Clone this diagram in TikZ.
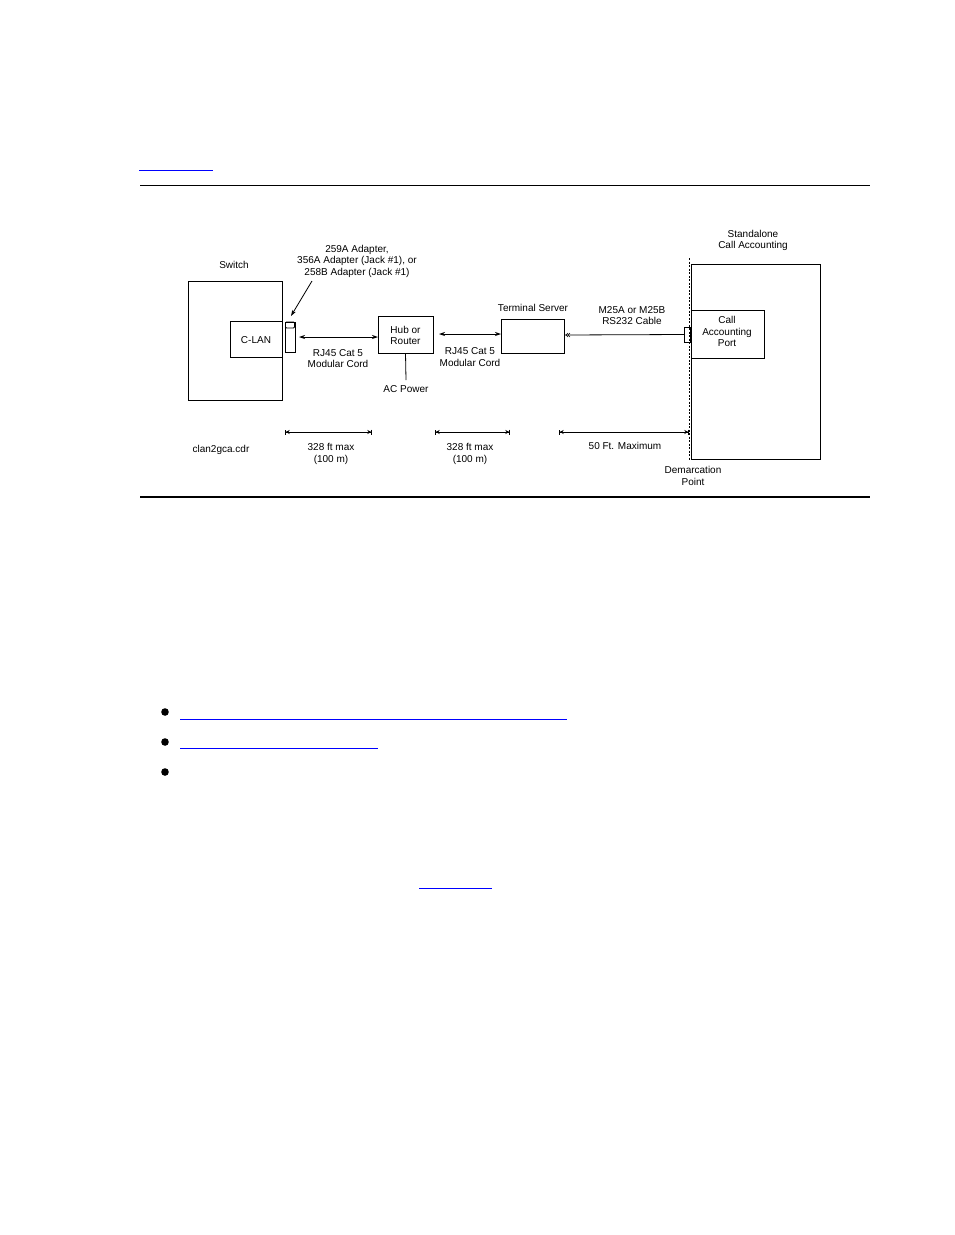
\documentclass[tikz,border=0pt]{standalone}
\usepackage{fontspec}
\setmainfont{Liberation Sans}
\usetikzlibrary{arrows.meta}
\begin{document}
\begin{tikzpicture}[x=1pt,y=-1pt,
  box/.style={draw,line width=0.8pt,inner sep=0pt,outer sep=0pt},
  lbl/.style={font=\fontsize{10}{11.5}\selectfont,align=center,inner sep=0pt,yshift=-1pt},
  dbl/.style={line width=0.8pt,{Stealth[length=6pt,width=4pt]}-{Stealth[length=6pt,width=4pt]}},
  dim/.style={line width=0.7pt,{Bar[width=5pt]Stealth[length=4pt,width=4pt]}-{Stealth[length=4pt,width=4pt]Bar[width=5pt]}},
  link/.style={draw=blue,line width=1pt}]
\useasboundingbox (0,0) rectangle (954,1235);
% rules and links
\draw[link] (139,170) -- (213,170);
\draw[line width=0.8pt] (140,185) -- (870,185);
\draw[line width=1.6pt] (140,497) -- (870,497);
% switch
\node[box,minimum width=94pt,minimum height=119pt] (switch) at (235,340.5) {};
\node[lbl] (switchlbl) at (234,264) {Switch};
\node[box,minimum width=52pt,minimum height=36pt] (clan) at (256,339) {};
\node[lbl] at (clan) {C-LAN};
% adapter
\node[box,minimum width=10pt,minimum height=30pt] (adapter) at (290,337) {};
\draw[line width=0.8pt,rounded corners=1pt] (285.5,328) -- (285.5,322) -- (294.5,322) -- (294.5,328) -- cycle;
\node[lbl] (adlbl) at (357,260) {259A Adapter,\\356A Adapter (Jack \#1), or\\258B Adapter (Jack \#1)};
\coordinate (adtail) at (312,281);
\coordinate (adtip) at (291,316);
\draw[line width=0.8pt,-{Stealth[length=6pt,width=4pt]}] (adtail) -- (adtip);
% hub
\node[box,minimum width=55pt,minimum height=37pt] (hub) at (405.5,334.5) {};
\node[lbl] at (hub) {Hub or\\Router};
\node[lbl] (acp) at (406,388) {AC Power};
\draw[line width=0.8pt] (hub.south) -- (406,380);
\draw[dbl] (adapter.east |- 0,337) ++(4,0) -- (hub.west |- 0,337);
\node[lbl] (rj1) at (338,357.5) {RJ45 Cat 5\\Modular Cord};
% terminal server
\node[box,minimum width=63pt,minimum height=34pt] (ts) at (532.5,336) {};
\node[lbl] (tslbl) at (533,307) {Terminal Server};
\draw[dbl] ([xshift=6pt]hub.east |- 0,334) -- (ts.west |- 0,334);
\node[lbl] (rj2) at (470,356) {RJ45 Cat 5\\Modular Cord};
% RS232 cable
\node[box,minimum width=6pt,minimum height=15pt] (conn) at (687,334.5) {};
\draw[line width=0.8pt] (ts.east |- 0,335) -- (conn.west);
\draw[line width=0.5pt] (568,333) -- (566,335) -- (568,337) (570,333) -- (568,335) -- (570,337);
\node[lbl] (rs) at (632,314.5) {M25A or M25B\\RS232 Cable};
% call accounting
\node[box,minimum width=129pt,minimum height=195pt] (ca) at (755.5,361.5) {};
\node[lbl] (calbl) at (753,239.5) {Standalone\\Call Accounting};
\node[box,minimum width=73pt,minimum height=48pt] (port) at (727.5,334) {};
\node[lbl] at (727,330.5) {Call\\Accounting\\Port};
\draw[line width=0.8pt,dash pattern=on 2pt off 1.5pt] (689,258) coordinate (dtop) -- (689,460) coordinate (dbot);
\node[lbl] (demarc) at (693,475) {Demarcation\\Point};
% dimensions
\draw[dim] (285,432) coordinate (d1a) -- (372,432) coordinate (d1b);
\draw[dim] (435,432) coordinate (d2a) -- (510,432) coordinate (d2b);
\draw[dim] (559,432) coordinate (d3a) -- (689,432) coordinate (d3b);
\node[lbl] (m1) at (331,453) {328 ft max\\(100 m)};
\node[lbl] (m2) at (470,453) {328 ft max\\(100 m)};
\node[lbl] (m3) at (625,445) {50 Ft. Maximum};
\node[lbl] (fname) at (221,449) {clan2gca.cdr};
% bullets and links
\fill (165,712) circle (3.8pt);
\fill (165,742) circle (3.8pt);
\fill (165,772) circle (3.8pt);
\draw[link] (180,719) -- (567,719);
\draw[link] (180,748) -- (378,748);
\draw[link] (419,888) -- (492,888);
\end{tikzpicture}
\end{document}
